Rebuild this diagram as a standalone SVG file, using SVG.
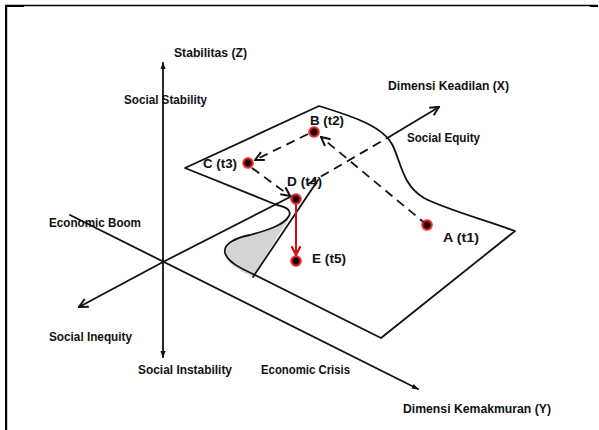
<svg xmlns="http://www.w3.org/2000/svg" width="599" height="430" viewBox="0 0 599 430">
  <style>
    .lbl { font-family: "Liberation Sans", Arial, sans-serif; font-weight: bold; font-size: 12px; fill: #111; }
    .ln { fill: none; stroke: #111; stroke-width: 1.8; stroke-linecap: round; stroke-linejoin: round; }
    .dash { fill: none; stroke: #111; stroke-width: 1.8; stroke-dasharray: 9 6; }
    .red { fill: none; stroke: #d01010; stroke-width: 2; }
  </style>
  <defs>
    <marker id="tri" viewBox="0 0 8 8" refX="7" refY="4" markerWidth="7" markerHeight="7" markerUnits="userSpaceOnUse" orient="auto">
      <path d="M0,1 L8,4 L0,7 Z" fill="#111"/>
    </marker>
    <marker id="vee" viewBox="0 0 10 10" refX="9" refY="5" markerWidth="11" markerHeight="11" markerUnits="userSpaceOnUse" orient="auto">
      <path d="M1,1 L9,5 L1,9" fill="none" stroke="#111" stroke-width="1.8"/>
    </marker>
    <marker id="veeRed" viewBox="0 0 10 10" refX="9" refY="5" markerWidth="11" markerHeight="11" markerUnits="userSpaceOnUse" orient="auto">
      <path d="M1,1 L9,5 L1,9" fill="none" stroke="#d01010" stroke-width="2"/>
    </marker>
    <radialGradient id="dotGlow">
      <stop offset="0" stop-color="#000"/>
      <stop offset="0.45" stop-color="#1a0000"/>
      <stop offset="0.6" stop-color="#b00000"/>
      <stop offset="1" stop-color="#e02020" stop-opacity="0.6"/>
    </radialGradient>
  </defs>

  <!-- frame -->
  <g id="frame">
    <line x1="5" y1="5.5" x2="598" y2="5.5" stroke="#000" stroke-width="1.3"/>
    <rect x="5" y="5" width="19" height="2" fill="#000"/>
    <rect x="590" y="5" width="8" height="2" fill="#000"/>
    <rect x="5" y="5" width="2.2" height="425" fill="#000"/>
  </g>

  <!-- axes -->
  <g id="axes">
    <line class="ln" x1="163" y1="262" x2="163" y2="63" marker-end="url(#tri)"/>
    <line class="ln" x1="163" y1="262" x2="163" y2="357" marker-end="url(#tri)"/>
    <line class="ln" x1="70" y1="215" x2="418" y2="389" marker-end="url(#tri)"/>
    <line class="ln" x1="163" y1="262" x2="79" y2="307" marker-end="url(#vee)"/>
    <line class="ln" x1="163" y1="262" x2="292" y2="196"/>
    <line class="dash" x1="308" y1="184" x2="389" y2="137"/>
    <line class="ln" x1="389" y1="137" x2="439" y2="107" marker-end="url(#vee)"/>
  </g>

  <!-- folded surface -->
  <g id="surface">
    <path d="M253,277 C262,262 276,238 289,219 C280,226 262,232 247,236 C230,241 222,250 226,258 C231,267 243,272 253,277 Z" fill="#d4d4d4"/>
    <path class="ln" d="M185,168 L319,106 C355,117 384,127 393,146 C401,163 403,186 424,198 C445,209 485,220 515,231 L381,338 L253,274 C240,268 228,262 225,253 C223,244 235,238 250,235 C268,230 284,225 289,216 C292,210 286,207 277,205 Z"/>
    <line class="ln" x1="253" y1="277" x2="318" y2="180"/>
  </g>

  <!-- trajectory connectors -->
  <g id="connectors">
    <line class="dash" x1="427" y1="225" x2="321" y2="137" marker-end="url(#vee)"/>
    <line class="dash" x1="308" y1="134" x2="255" y2="160" marker-end="url(#vee)"/>
    <line class="dash" x1="252" y1="168" x2="290" y2="196" marker-end="url(#vee)"/>
    <line class="red" x1="296" y1="204" x2="296" y2="255" marker-end="url(#veeRed)"/>
  </g>

  <!-- states -->
  <g id="node-a"><circle cx="427" cy="225" r="6" fill="url(#dotGlow)"/><text class="lbl" x="443" y="242" textLength="36" lengthAdjust="spacingAndGlyphs">A (t1)</text></g>
  <g id="node-b"><circle cx="314" cy="132" r="6" fill="url(#dotGlow)"/><text class="lbl" x="310" y="125" textLength="34" lengthAdjust="spacingAndGlyphs">B (t2)</text></g>
  <g id="node-c"><circle cx="248" cy="163" r="6" fill="url(#dotGlow)"/><text class="lbl" x="203" y="168" textLength="34" lengthAdjust="spacingAndGlyphs">C (t3)</text></g>
  <g id="node-d"><circle cx="296" cy="199" r="6" fill="url(#dotGlow)"/><text class="lbl" x="287" y="186" textLength="35" lengthAdjust="spacingAndGlyphs">D (t4)</text></g>
  <g id="node-e"><circle cx="296" cy="261" r="6" fill="url(#dotGlow)"/><text class="lbl" x="312" y="263" textLength="34" lengthAdjust="spacingAndGlyphs">E (t5)</text></g>

  <!-- axis labels -->
  <g id="labels">
    <text class="lbl" x="174" y="57" textLength="73" lengthAdjust="spacingAndGlyphs">Stabilitas (Z)</text>
    <text class="lbl" x="124" y="104" textLength="83" lengthAdjust="spacingAndGlyphs">Social Stability</text>
    <text class="lbl" x="388" y="90" textLength="121" lengthAdjust="spacingAndGlyphs">Dimensi Keadilan (X)</text>
    <text class="lbl" x="407" y="142" textLength="73" lengthAdjust="spacingAndGlyphs">Social Equity</text>
    <text class="lbl" x="49" y="227" textLength="92" lengthAdjust="spacingAndGlyphs">Economic Boom</text>
    <text class="lbl" x="49" y="341" textLength="83" lengthAdjust="spacingAndGlyphs">Social Inequity</text>
    <text class="lbl" x="138" y="374" textLength="94" lengthAdjust="spacingAndGlyphs">Social Instability</text>
    <text class="lbl" x="261" y="374" textLength="89" lengthAdjust="spacingAndGlyphs">Economic Crisis</text>
    <text class="lbl" x="403" y="413" textLength="148" lengthAdjust="spacingAndGlyphs">Dimensi Kemakmuran (Y)</text>
  </g>
</svg>
